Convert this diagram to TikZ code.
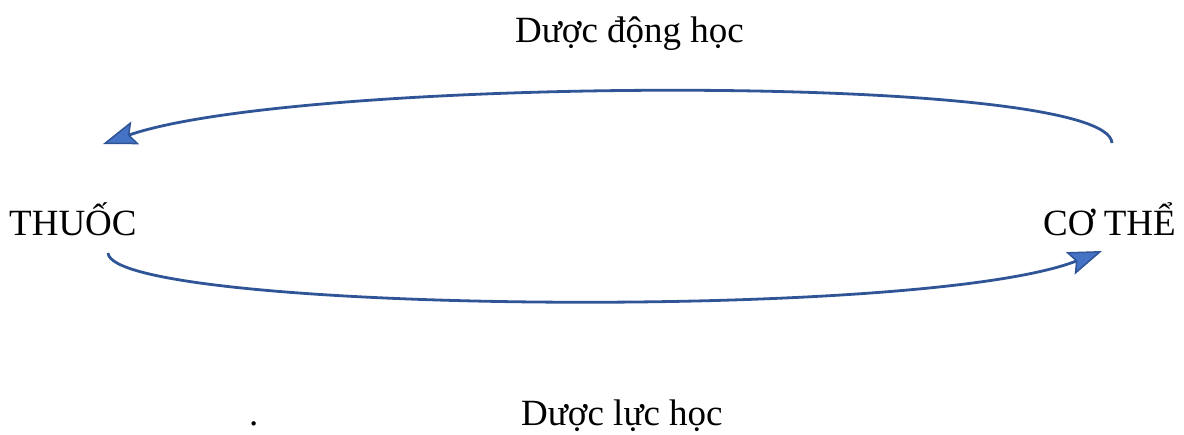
\documentclass[tikz,border=0pt]{standalone}
\usepackage{fontspec}
\setmainfont{Liberation Serif}
\usetikzlibrary{arrows.meta}
\definecolor{arcline}{HTML}{2F5597}
\definecolor{arcfill}{HTML}{4472C4}
\tikzset{
  lbl/.style={anchor=base west, inner sep=0pt, font=\fontsize{37}{44}\selectfont},
  arc/.style={draw=arcline, line width=2.8pt,
    -{Stealth[length=34pt,width=24pt,inset=6pt,fill=arcfill,line width=1.5pt]}},
}
\begin{document}
\begin{tikzpicture}[x=1pt,y=-1pt]
\useasboundingbox (0,0) rectangle (1184,434);
\node[lbl] (thuoc) at (9,235) {THUỐC};
\node[lbl] (cothe) at (1043,235) {CƠ THỂ};
\node[lbl] (ddh) at (515,42) {Dược động học};
\node[lbl] (dlh) at (521,425) {Dược lực học};
\node[lbl] (dot) at (249,425) {.};
\coordinate (t1) at (1112,143);
\coordinate (t2) at (103,144);
\coordinate (b1) at (108,253);
\coordinate (b2) at (1102,251);
\draw[arc] (t1) .. controls (1108,72) and (300,76) .. (t2);
\draw[arc] (b1) .. controls (112,312) and (920,322) .. (b2);
\end{tikzpicture}
\end{document}
